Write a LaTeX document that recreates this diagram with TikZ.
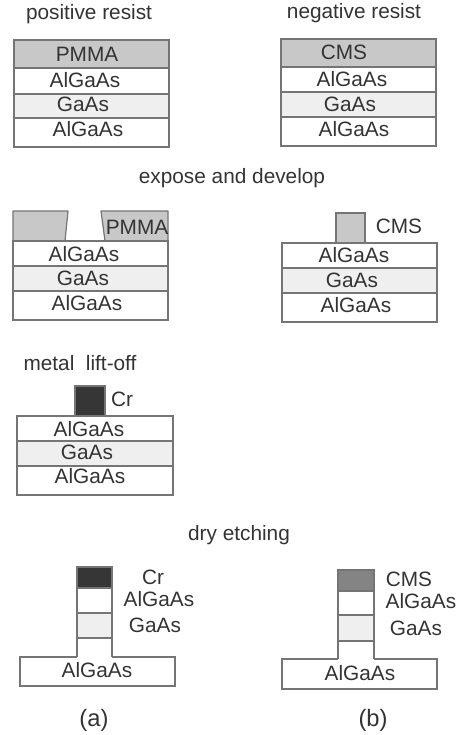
\documentclass[tikz,border=0pt]{standalone}
\usepackage{fontspec}
\setmainfont{Liberation Sans}
\definecolor{ink}{HTML}{333333}
\definecolor{edge}{HTML}{757575}
\definecolor{resist}{HTML}{C8C8C8}
\definecolor{gaas}{HTML}{EFEFEF}
\definecolor{chrome}{HTML}{363636}
\definecolor{cmsdark}{HTML}{848484}
\newcommand{\lay}[6]{%
  \pgfmathsetmacro{\lw}{(#4-#2)*0.75}\pgfmathsetmacro{\lh}{(#5-#3)*0.75}%
  \node[layer,fill=#6,minimum width=\lw pt,minimum height=\lh pt] (#1) at ({(#2+#4)/2},{(#3+#5)/2}) {};}
\newcommand{\lab}[4]{\node[label] (#1) at (#2,#3) {#4};}
\begin{document}
\begin{tikzpicture}[x=0.75pt,y=-0.75pt,
  every node/.style={text=ink,font=\fontsize{15.6}{18}\selectfont},
  layer/.style={draw=edge,line width=0.9pt,inner sep=0pt,outer sep=0pt},
  label/.style={inner sep=0pt,anchor=base},
  edgeline/.style={draw=edge,line width=0.9pt,line join=round}]
\useasboundingbox (0,0) rectangle (463,735);
% top left
\lay{a1}{14}{40}{169}{68}{resist}
\lay{a2}{14}{68}{169}{94}{white}
\lay{a3}{14}{94}{169}{118}{gaas}
\lay{a4}{14}{118}{169}{147}{white}
% top right
\lay{b1}{281}{39}{436}{67}{resist}
\lay{b2}{281}{67}{436}{92}{white}
\lay{b3}{281}{92}{436}{117}{gaas}
\lay{b4}{281}{117}{436}{146}{white}
% row 2 left
\coordinate (p1) at (13,211);\coordinate (p2) at (68,211);\coordinate (p3) at (65,241);\coordinate (p4) at (13,241);
\coordinate (q1) at (101,211);\coordinate (q2) at (168,211);\coordinate (q3) at (168,241);\coordinate (q4) at (105,241);
\draw[edgeline,fill=resist] (p1) -- (p2) -- (p3) -- (p4) -- cycle;
\draw[edgeline,fill=resist] (q1) -- (q2) -- (q3) -- (q4) -- cycle;
\lay{c2}{13}{241}{168}{266}{white}
\lay{c3}{13}{266}{168}{291}{gaas}
\lay{c4}{13}{291}{168}{320}{white}
% row 2 right
\lay{d1}{336}{213}{365}{243}{resist}
\lay{d2}{282}{243}{437}{268}{white}
\lay{d3}{282}{268}{437}{293}{gaas}
\lay{d4}{282}{293}{437}{322}{white}
% row 3
\lay{e1}{75}{386}{105}{416}{chrome}
\lay{e2}{17}{416}{173}{441}{white}
\lay{e3}{17}{441}{173}{466}{gaas}
\lay{e4}{17}{466}{173}{495}{white}
% row 4 left
\lay{f4}{20}{657}{175}{686}{white}
\lay{f1}{77}{567}{112}{588}{chrome}
\lay{f2}{77}{588}{112}{613}{white}
\lay{f3}{77}{613}{112}{638}{gaas}
\draw[white,line width=1.2pt] (f3.south west |- f4.north) -- (f3.south east |- f4.north);
\draw[edgeline] (f3.south west) -- (f3.south west |- f4.north);
\draw[edgeline] (f3.south east) -- (f3.south east |- f4.north);
% row 4 right
\lay{g4}{282}{659}{437}{689}{white}
\lay{g1}{338}{570}{374}{591}{cmsdark}
\lay{g2}{338}{591}{374}{615}{white}
\lay{g3}{338}{615}{374}{641}{gaas}
\draw[white,line width=1.2pt] (g3.south west |- g4.north) -- (g3.south east |- g4.north);
\draw[edgeline] (g3.south west) -- (g3.south west |- g4.north);
\draw[edgeline] (g3.south east) -- (g3.south east |- g4.north);
% text
\lab{t1}{89}{20}{positive resist}
\lab{t2}{354}{19}{negative resist}
\lab{t3}{232}{183}{expose and develop}
\lab{t4}{80}{370}{metal\ \ lift-off}
\lab{t5}{239}{540}{dry etching}
\lab{la1}{87}{62}{PMMA}
\lab{la2}{85}{88}{AlGaAs}
\lab{la3}{83}{112}{GaAs}
\lab{la4}{88}{137}{AlGaAs}
\lab{lb1}{344}{60}{CMS}
\lab{lb2}{352}{87}{AlGaAs}
\lab{lb3}{350}{111}{GaAs}
\lab{lb4}{354}{136}{AlGaAs}
\lab{lc1}{137}{234}{PMMA}
\lab{lc2}{84}{261}{AlGaAs}
\lab{lc3}{83}{285}{GaAs}
\lab{lc4}{87}{310}{AlGaAs}
\lab{ld1}{399}{233}{CMS}
\lab{ld2}{354}{262}{AlGaAs}
\lab{ld3}{352}{287}{GaAs}
\lab{ld4}{356}{312}{AlGaAs}
\lab{le1}{122}{406}{Cr}
\lab{le2}{89}{436}{AlGaAs}
\lab{le3}{87}{459}{GaAs}
\lab{le4}{90}{483}{AlGaAs}
\lab{lf1}{153}{584}{Cr}
\lab{lf2}{159}{606}{AlGaAs}
\lab{lf3}{155}{632}{GaAs}
\lab{lf4}{97}{677}{AlGaAs}
\lab{lg1}{409}{586}{CMS}
\lab{lg2}{421}{608}{AlGaAs}
\lab{lg3}{416}{635}{GaAs}
\lab{lg4}{360}{680}{AlGaAs}
\node[label,font=\fontsize{17.8}{20}\selectfont] (ca) at (94,726) {(a)};
\node[label,font=\fontsize{17.8}{20}\selectfont] (cb) at (373,726) {(b)};
\end{tikzpicture}
\end{document}
